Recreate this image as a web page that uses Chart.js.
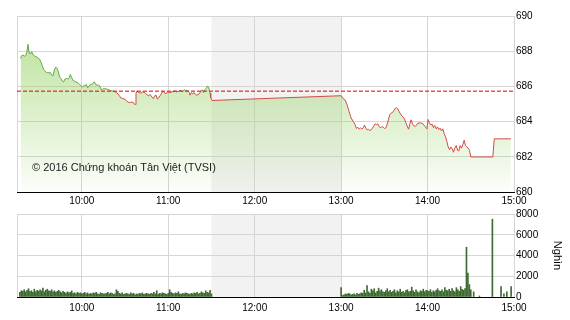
<!DOCTYPE html>
<html>
<head>
<meta charset="utf-8">
<script src="https://cdn.jsdelivr.net/npm/chart.js@4.4.1/dist/chart.umd.min.js"></script>
<style>
    html, body { margin: 0; padding: 0; background: #fff; }
    #wrap { position: relative; width: 570px; height: 320px; overflow: hidden; }
    #priceChart { position: absolute; left: 0; top: 0; }
    #volChart { position: absolute; left: 0; top: 205px; }
    #credit {
        position: absolute; left: 32px; top: 161px; z-index: 2;
        font: 11px 'Liberation Sans', Arial, sans-serif; line-height: 13px; color: #222;
        white-space: nowrap;
    }
</style>
</head>
<body>
<div id="wrap">
    <canvas id="priceChart" width="570" height="210"></canvas>
    <canvas id="volChart" width="570" height="115"></canvas>
    <div id="credit">© 2016 Chứng khoán Tân Việt (TVSI)</div>
</div>
<script>
// Thời gian tính bằng phút kể từ 0h (555 = 9:15, 900 = 15:00)
const hourTicks = [555, 600, 660, 720, 780, 840, 900];
const hourLabels = ['', '10:00', '11:00', '12:00', '13:00', '14:00', '15:00'];
const lunchBreak = [690, 780];

const priceTicks = [680, 682, 684, 686, 688, 690];
const volTicks = [0, 2000, 4000, 6000, 8000];
const refPrice = 685.73;

// VN-Index theo phút
const priceTimes = [
    557.5, 558.2, 559.2, 560.1, 561.0, 561.9, 562.6, 563.3, 564.3, 565.2, 566.1, 567.0, 568.0, 568.9,
    569.8, 570.7, 571.7, 572.6, 573.5, 574.4, 575.4, 576.3, 577.2, 578.1, 579.1, 580.0, 580.9, 581.9,
    582.8, 583.7, 584.6, 585.6, 586.5, 587.4, 588.3, 589.3, 590.2, 591.1, 592.0, 593.0, 593.9, 594.8,
    595.7, 596.7, 597.6, 598.5, 599.4, 600.4, 601.3, 602.2, 603.1, 604.1, 605.0, 605.9, 606.9, 607.8,
    608.7, 609.6, 610.6, 611.5, 612.4, 613.3, 614.3, 615.2, 616.1, 617.0, 618.4,
    619.6, 621.9, 624.2, 626.1, 627.0, 628.4, 629.8, 631.2, 632.5, 633.9, 635.3, 636.3, 637.2, 637.6,
    638.1, 639.5, 640.9, 642.3, 643.7, 645.0, 646.4, 647.4, 648.7, 649.7, 650.6, 651.5, 652.5, 653.4,
    654.3, 655.2, 656.2, 657.1, 658.5, 659.4, 660.3, 661.2, 662.6, 663.6, 665.0, 665.9, 667.3, 668.2,
    669.1, 670.0, 671.0, 671.9, 672.8, 673.8, 674.7, 675.1, 676.1, 677.0, 677.9, 678.8, 679.8, 680.7,
    681.6, 682.6, 683.5, 684.4, 685.3, 686.3, 687.2, 688.1, 689.0, 689.5, 690.4,
    780.0, 781.4, 782.8, 784.2, 785.6, 786.9, 788.3, 789.7, 790.6, 791.6, 792.5, 793.4, 794.4, 795.3,
    796.2, 797.1, 798.1, 799.0, 799.9, 800.8, 801.8, 802.7, 803.6, 804.5, 805.5, 806.4, 807.3, 808.2,
    809.2, 810.1, 811.0, 811.9, 812.9, 813.8, 814.7, 815.7, 816.6, 817.5, 818.4, 819.4, 820.3, 821.2,
    822.1, 823.1, 824.0, 824.9, 825.8, 826.8, 827.7, 828.6, 829.5, 830.5, 831.4, 832.3, 833.2,
    834.9, 836.7, 838.1, 839.5, 840.4, 841.3, 842.3, 843.2, 844.1, 845.0, 846.0, 846.9, 847.8, 848.7,
    849.7, 850.6, 851.5, 852.5, 853.4, 854.3, 855.2, 856.2, 857.1, 858.0, 858.9, 859.9, 860.8, 861.7,
    862.6, 863.6, 864.5, 865.4, 866.3, 867.3, 868.2, 869.1, 870.0, 871.9, 885.3, 886.3, 897.8
];
const priceValues = [
    687.59, 687.74, 687.78, 687.72, 687.74, 687.97, 688.39, 687.97, 687.84, 687.97, 687.82, 687.74, 687.69, 687.67,
    687.59, 687.55, 687.36, 687.17, 686.96, 686.87, 686.79, 686.79, 686.76, 686.79, 686.64, 686.60, 686.93, 687.10,
    687.02, 686.83, 686.53, 686.45, 686.30, 686.26, 686.42, 686.45, 686.42, 686.45, 686.68, 686.49, 686.34, 686.30,
    686.26, 686.23, 686.17, 686.11, 686.04, 685.96, 686.04, 686.04, 686.11, 685.92, 686.02, 686.11, 686.11, 686.19,
    686.26, 686.11, 686.07, 686.07, 686.04, 685.83, 685.83, 685.88, 685.86, 685.85, 685.83,
    685.77, 685.73, 685.65, 685.47, 685.35, 685.31, 685.28, 685.16, 685.09, 685.09, 685.12, 685.01, 684.97, 685.60,
    685.73, 685.65, 685.62, 685.69, 685.65, 685.54, 685.47, 685.54, 685.39, 685.31, 685.47, 685.50, 685.28, 685.35,
    685.47, 685.58, 685.73, 685.65, 685.58, 685.69, 685.65, 685.65, 685.69, 685.73, 685.73, 685.69, 685.73, 685.77,
    685.77, 685.69, 685.81, 685.77, 685.77, 685.73, 685.65, 685.50, 685.65, 685.58, 685.65, 685.54, 685.50, 685.54,
    685.58, 685.73, 685.81, 685.65, 685.81, 685.88, 686.03, 685.92, 685.62, 685.35, 685.20,
    685.47, 685.31, 685.22, 684.94, 684.56, 684.21, 684.02, 683.83, 683.61, 683.68, 683.57, 683.64, 683.57, 683.64,
    683.80, 683.64, 683.53, 683.57, 683.49, 683.53, 683.64, 683.76, 683.87, 683.83, 683.87, 683.72, 683.64, 683.72,
    683.68, 683.61, 683.64, 683.83, 684.14, 684.40, 684.48, 684.52, 684.63, 684.75, 684.78, 684.71, 684.56, 684.44,
    684.33, 684.25, 684.14, 683.95, 683.76, 683.57, 683.87, 684.10, 683.87, 683.76, 683.72, 683.80, 683.91,
    683.93, 683.89, 683.74, 683.59, 684.12, 683.93, 683.81, 683.85, 683.66, 683.78, 683.59, 683.70, 683.55, 683.63,
    683.47, 683.59, 683.32, 683.13, 682.87, 682.56, 682.41, 682.56, 682.45, 682.26, 682.49, 682.64, 682.37, 682.33,
    682.64, 682.49, 682.71, 682.94, 682.64, 682.56, 682.49, 682.37, 681.99, 681.99, 681.99, 683.02, 683.02
];

// Khối lượng (nghìn CP) theo phút
const volMorningStart = 557;
const volMorning = [
    450, 600, 550, 700, 500, 650, 800, 550, 600, 450, 750, 500, 650, 550,
    700, 600, 850, 500, 650, 750, 600, 550, 700, 500, 600, 450, 550, 650, 500,
    400, 550, 450, 350, 500, 400, 450, 600, 350, 400, 300, 450, 350, 400, 300,
    350, 450, 300, 400, 250, 350, 300, 400, 350, 450, 300, 250, 400, 350, 300,
    300, 350, 450, 300, 400, 350, 250, 300, 700, 550, 350, 300, 400, 250, 300,
    350, 300, 250, 400, 300, 350, 200, 300, 250, 350, 300, 400, 250, 300, 350,
    300, 250, 350, 300, 450, 300, 600, 250, 350, 300, 400, 350, 300, 250, 350,
    700, 450, 350, 300, 400, 350, 500, 300, 250, 350, 300, 400, 350, 300, 250,
    350, 300, 400, 350, 450, 300, 350, 500, 400, 350, 600, 450, 400, 650, 300
];
const volAfternoonStart = 780;
const volAfternoon = [
    900,
    150, 200, 300, 250, 350, 300, 200, 250, 300, 200, 350, 250, 300, 400, 350,
    650, 400, 1100, 500, 350, 750, 600, 800, 400, 550, 850, 600, 700, 500, 450,
    600, 800, 500, 650, 450, 550, 700, 400, 600, 500, 750, 450, 550, 400, 650,
    700, 500, 550, 950, 600, 450, 700, 500, 400, 600, 550, 750, 500, 650, 600,
    550, 700, 450, 600, 500, 650, 800, 600, 550, 700, 500, 900, 650, 600, 750,
    550, 800, 600, 500, 900, 700, 550, 1000, 750, 650, 800, 4800, 2300, 1200
];
const volLateTimes = [870, 872, 876, 885, 891, 893, 895, 898];
const volLate = [700, 500, 100, 7500, 1000, 300, 500, 1000];

const FONT = "'Liberation Sans', Arial, sans-serif";
const GRID = '#d6d6d6';

const priceData = priceTimes.map((t, i) => ({ x: t, y: priceValues[i] }));
const volData = [];
volMorning.forEach((v, i) => volData.push({ x: volMorningStart + i, y: v }));
volAfternoon.forEach((v, i) => volData.push({ x: volAfternoonStart + i, y: v }));
volLateTimes.forEach((t, i) => volData.push({ x: t, y: volLate[i] }));

// Nền xám giờ nghỉ trưa
const lunchBand = {
    id: 'lunchBand',
    beforeDraw(chart) {
        const { ctx, chartArea, scales } = chart;
        const x0 = scales.x.getPixelForValue(lunchBreak[0]);
        const x1 = scales.x.getPixelForValue(lunchBreak[1]);
        ctx.save();
        ctx.fillStyle = '#f2f2f2';
        ctx.fillRect(x0, chartArea.top, x1 - x0, chartArea.bottom - chartArea.top);
        ctx.restore();
    }
};

function timeAxis(height, pad) {
    return {
        type: 'linear',
        offset: false,
        min: hourTicks[0],
        max: hourTicks[hourTicks.length - 1],
        afterBuildTicks: function(scale) {
            scale.ticks = hourTicks.map(v => ({ value: v }));
        },
        afterFit: function(scale) { scale.height = height; },
        grid: { color: GRID, drawTicks: false, offset: false },
        border: { color: '#000' },
        ticks: {
            padding: pad,
            autoSkip: false,
            maxRotation: 0,
            color: '#000',
            font: { family: FONT, size: 10 },
            callback: function(value) {
                const i = hourTicks.indexOf(value);
                return i >= 0 ? hourLabels[i] : '';
            }
        }
    };
}

function valueAxis(ticks, title) {
    return {
        position: 'right',
        min: ticks[0],
        max: ticks[ticks.length - 1],
        afterBuildTicks: function(scale) {
            scale.ticks = ticks.map(v => ({ value: v }));
        },
        afterFit: function(scale) { scale.width = 56; },
        grid: { color: GRID, drawTicks: false },
        border: { display: false },
        ticks: {
            padding: 2, color: '#000', font: { family: FONT, size: 10 },
            callback: function(value) { return String(value); }
        },
        title: title ? {
            display: true, text: title, color: '#000',
            font: { family: FONT, size: 11 }, padding: { top: 6, bottom: 6 }
        } : { display: false }
    };
}

function greenFill(context) {
    const { ctx, chartArea } = context.chart;
    if (!chartArea) return 'rgba(150,210,100,0.3)';
    const g = ctx.createLinearGradient(0, chartArea.top, 0, chartArea.bottom);
    g.addColorStop(0, 'rgba(150, 210, 100, 0.7)');
    g.addColorStop(1, 'rgba(150, 210, 100, 0.03)');
    return g;
}

new Chart(document.getElementById('priceChart'), {
    type: 'line',
    data: {
        datasets: [{
            label: 'Tham chiếu',
            data: [{ x: hourTicks[0], y: refPrice }, { x: hourTicks[hourTicks.length - 1], y: refPrice }],
            borderColor: '#e00000',
            borderWidth: 1,
            borderDash: [4, 2],
            pointRadius: 0,
            fill: false,
            order: 0
        }, {
            label: 'VN-Index',
            data: priceData,
            borderWidth: 1,
            pointRadius: 0,
            tension: 0,
            fill: false,
            order: 1,
            segment: {
                borderColor: ctx => (ctx.p0.parsed.y + ctx.p1.parsed.y) / 2 >= refPrice ? '#62a845' : '#d24a4a'
            }
        }, {
            label: 'Nền',
            data: priceData,
            borderWidth: 0,
            pointRadius: 0,
            tension: 0,
            fill: 'start',
            backgroundColor: greenFill,
            order: 2
        }]
    },
    options: {
        responsive: false,
        animation: false,
        layout: { padding: { left: 17, top: 16, right: 0, bottom: 0 } },
        plugins: { legend: { display: false }, tooltip: { enabled: false } },
        scales: {
            x: timeAxis(18, 3),
            y: valueAxis(priceTicks, null)
        }
    },
    plugins: [lunchBand]
});

new Chart(document.getElementById('volChart'), {
    type: 'bar',
    data: {
        datasets: [{
            label: 'Khối lượng',
            data: volData,
            backgroundColor: '#3f6b32',
            barThickness: 1
        }]
    },
    options: {
        responsive: false,
        animation: false,
        layout: { padding: { left: 17, top: 9, right: 0, bottom: 0 } },
        plugins: { legend: { display: false }, tooltip: { enabled: false } },
        scales: {
            x: timeAxis(23, 5),
            y: valueAxis(volTicks, 'Nghìn')
        }
    },
    plugins: [lunchBand]
});
</script>
</body>
</html>
